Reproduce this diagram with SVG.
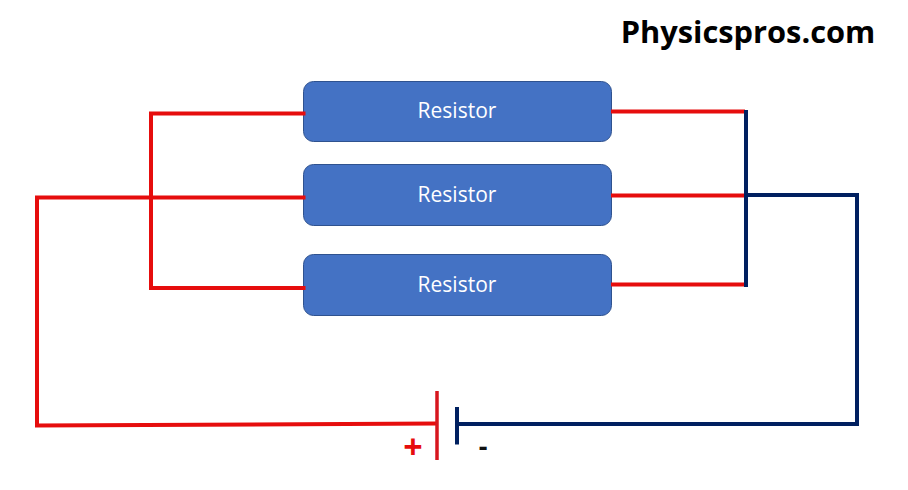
<svg xmlns="http://www.w3.org/2000/svg" width="908" height="490" viewBox="0 0 908 490">
<style>
.n{fill:#4472c4;stroke:#2f528f;stroke-width:1}
.t{font-family:"Open Sans","Noto Sans",sans-serif;font-size:21px;fill:#fff;text-anchor:middle}
.r{fill:none;stroke:#e60d0d;stroke-width:4}
.b{fill:none;stroke:#002060;stroke-width:4}
</style>
<rect width="908" height="490" fill="#fff"/>
<g id="resistor1"><rect class="n" x="303.500" y="81.500" width="308" height="60" rx="10"/><text class="t" x="457" y="118">Resistor</text></g>
<g id="resistor2"><rect class="n" x="303.500" y="164.500" width="308" height="61" rx="10"/><text class="t" x="457" y="202">Resistor</text></g>
<g id="resistor3"><rect class="n" x="303.500" y="254.500" width="308" height="61" rx="10"/><text class="t" x="457" y="292">Resistor</text></g>
<g id="connectors">
<path class="r" d="M305.500 113.500H151V288H305.500"/>
<path class="r" d="M305.500 197.500H37V425.500L437 423.500"/>
<path class="r" d="M611 111.500H745M611 195.500H745M611 284.500H745"/>
<path class="b" d="M746 110V287M746 195H857V424H457"/>
<path d="M437 391V460" fill="none" stroke="#d7161e" stroke-width="3.500"/>
<path d="M457 407V444.500" fill="none" stroke="#002060" stroke-width="4"/>
</g>
<text id="plus" x="413" y="459" text-anchor="middle" style="font-family:'Open Sans','Noto Sans',sans-serif;font-size:34px;font-weight:700;fill:#e60d0d">+</text>
<text id="minus" x="483" y="456" text-anchor="middle" style="font-family:'Open Sans','Noto Sans',sans-serif;font-size:27px;font-weight:700;fill:#111">-</text>
<text id="brand" x="748" y="42.500" text-anchor="middle" style="font-family:'Open Sans','Noto Sans',sans-serif;font-size:30.800px;font-weight:700;fill:#000">Physicspros.com</text>
</svg>
